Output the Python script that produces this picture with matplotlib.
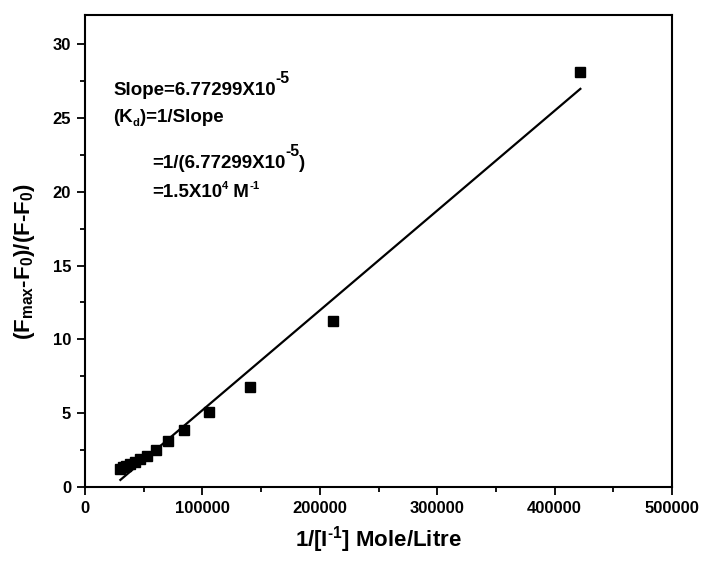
import matplotlib
matplotlib.use("Agg")
import matplotlib.pyplot as plt
import matplotlib.transforms as mtransforms
import numpy as np
from matplotlib.ticker import MultipleLocator

plt.rcParams['font.family'] = ['Liberation Sans', 'DejaVu Sans']
plt.rcParams['font.weight'] = 'bold'
plt.rcParams['mathtext.fontset'] = 'custom'
plt.rcParams['mathtext.rm'] = 'Liberation Sans:bold'
plt.rcParams['mathtext.it'] = 'Liberation Sans:bold'
plt.rcParams['mathtext.bf'] = 'Liberation Sans:bold'
plt.rcParams['mathtext.sf'] = 'Liberation Sans:bold'

# 1/[I] (Mole/Litre) and (Fmax-F0)/(F-F0)
inv_conc = [421941, 210970, 140647, 105485, 84388, 70323, 60277,
            52743, 46882, 42194, 38358, 35162, 32457, 30139]
ratio = [28.15, 11.24, 6.74, 5.05, 3.85, 3.12, 2.49,
         2.10, 1.85, 1.65, 1.50, 1.40, 1.30, 1.18]

slope = 6.77299e-5
intercept = -1.59

x_ticks = [0, 100000, 200000, 300000, 400000, 500000]
y_ticks = [0, 5, 10, 15, 20, 25, 30]

HY = '\u2010'  # plain hyphen for superscripts

fig = plt.figure(figsize=(7.05, 5.65), dpi=100)
ax = fig.add_axes([85 / 705, 1 - 487.3 / 565, (672 - 85) / 705, (487.3 - 15) / 565])

ax.plot(inv_conc, ratio, 's', color='black', markersize=6.5, zorder=3)

xf = np.array([min(inv_conc), max(inv_conc)])
ax.plot(xf, slope * xf + intercept, '-', color='black', lw=1.6)

ax.set_xlim(0, 500000)
ax.set_ylim(-0.05, 32)
ax.set_xticks(x_ticks)
ax.set_yticks(y_ticks)
ax.xaxis.set_minor_locator(MultipleLocator(50000))
ax.yaxis.set_minor_locator(MultipleLocator(2.5))
ax.tick_params(which='both', direction='out', top=False, right=False,
               labelsize=12, width=1.3)
ax.tick_params(which='major', length=6, pad=4)
ax.tick_params(which='minor', length=3.5)
for lab in ax.get_xticklabels() + ax.get_yticklabels():
    lab.set_fontweight('bold')
for sp in ax.spines.values():
    sp.set_linewidth(1.5)

ax.set_xlabel('1/[I$^{' + HY + '1}$] Mole/Litre', fontsize=16, fontweight='bold', labelpad=6)
ax.set_ylabel(r'(F$_{\mathregular{max}}$-F$_0$)/(F-F$_0$)', fontsize=16,
              fontweight='bold')
ax.yaxis.set_label_coords(-0.082, 0.477)

# annotation built from pieces: (text, size scale, vertical shift in px)
renderer = fig.canvas.get_renderer()


def rich_text(x, y, pieces, fs=13.5):
    dx = 0.0
    for s, scale, rise in pieces:
        tr = mtransforms.offset_copy(ax.transData, fig=fig, x=dx, y=rise, units='dots')
        t = ax.text(x, y, s, transform=tr, fontsize=fs * scale, fontweight='bold')
        dx += t.get_window_extent(renderer).width


rich_text(24000, 26.57, [('Slope=6.77299X10', 1, 0), (HY + '5', 0.85, 12)])
rich_text(24000, 24.74, [('(K', 1, 0), ('d', 0.6, -4), (')=1/Slope', 1, 0)])
rich_text(57000, 21.6, [('=1/(6.77299X10', 1, 0), (HY + '5', 0.85, 12), (')', 1, 0)])
rich_text(57000, 19.64, [('=1.5X10', 1, 0), ('4', 0.6, 8), (' M', 1, 0), (HY + '1', 0.6, 8)])

fig.savefig('out.png', dpi=100)
